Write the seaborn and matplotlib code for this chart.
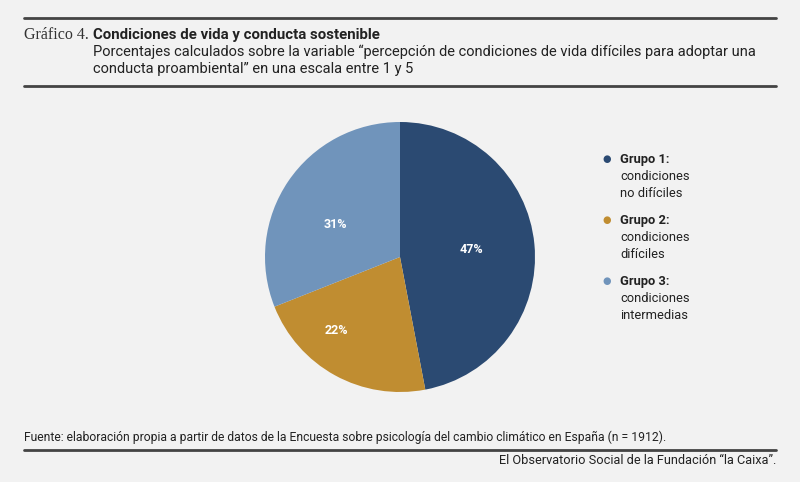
import matplotlib
matplotlib.use("Agg")
import matplotlib.pyplot as plt
from matplotlib.lines import Line2D
import seaborn as sns

# data
groups = ["Grupo 1:", "Grupo 2:", "Grupo 3:"]
group_desc = [["condiciones", "no difíciles"], ["condiciones", "difíciles"],
              ["condiciones", "intermedias"]]
shares = [47, 22, 31]
colors = ["#2b4a72", "#c08d31", "#7094bb"]

sns.set_theme(style="white")
plt.rcParams["font.family"] = ["Roboto", "DejaVu Sans"]

BG = "#f2f2f2"
INK = "#222222"
W, H = 800, 482

fig = plt.figure(figsize=(W / 100, H / 100), dpi=100, facecolor=BG)


def px(x, y):
    return x / W, 1 - y / H


def hline(y, lw=2.0):
    fig.add_artist(Line2D([24 / W, 776 / W], [1 - y / H] * 2, color="#444444", lw=lw))


hline(18)
hline(86)
hline(450)

# header
fig.text(*px(24, 35), "Gráfico 4.", family="Liberation Serif", fontsize=11.5,
         color="#333333", va="center", ha="left")
fig.text(*px(93, 35), "Condiciones de vida y conducta sostenible", fontsize=10.8,
         weight="bold", color=INK, va="center", ha="left")
fig.text(*px(93, 52), "Porcentajes calculados sobre la variable “percepción de condiciones de vida difíciles para adoptar una",
         fontsize=10.5, color=INK, va="center", ha="left")
fig.text(*px(93, 69), "conducta proambiental” en una escala entre 1 y 5",
         fontsize=10.5, color=INK, va="center", ha="left")

# pie
r = 135
cx, cy = 400, 257
ax = fig.add_axes([(cx - r) / W, 1 - (cy + r) / H, 2 * r / W, 2 * r / H])
ax.set_facecolor(BG)
wedges, texts = ax.pie(shares, colors=colors, startangle=90, counterclock=False,
                       labels=[f"{s}%" for s in shares], labeldistance=0.53,
                       wedgeprops=dict(linewidth=0),
                       textprops=dict(color="white", fontsize=9, weight="bold",
                                      ha="center", va="center"))
# labels of the smaller slices sit a bit off the mid-angle in the original
label_pos = [(0.526, 0.059), (-0.474, -0.541), (-0.481, 0.244)]
for t, pos in zip(texts, label_pos):
    t.set_position(pos)
ax.set_xlim(-1, 1)
ax.set_ylim(-1, 1)
ax.set_aspect("equal")
ax.axis("off")

# legend
leg_y = [159, 220, 281]
for g, d, c, y in zip(groups, group_desc, colors, leg_y):
    fig.text(*px(607, y), "●", color=c, fontsize=7, family="DejaVu Sans",
             ha="center", va="center")
    fig.text(*px(620, y + 4), g, fontsize=9.3, weight="bold", color=INK,
             ha="left", va="baseline")
    for i, line in enumerate(d):
        fig.text(*px(620, y + 4 + 17 * (i + 1)), line, fontsize=9.3, color=INK,
                 ha="left", va="baseline")

# footer
fig.text(*px(24, 437), "Fuente: elaboración propia a partir de datos de la Encuesta sobre psicología del cambio climático en España (n = 1912).",
         fontsize=8.7, color=INK, ha="left", va="center")
fig.text(*px(776, 461), "El Observatorio Social de la Fundación “la Caixa”.",
         fontsize=9.2, color=INK, ha="right", va="center")

fig.savefig("out.png", dpi=100, facecolor=BG)
